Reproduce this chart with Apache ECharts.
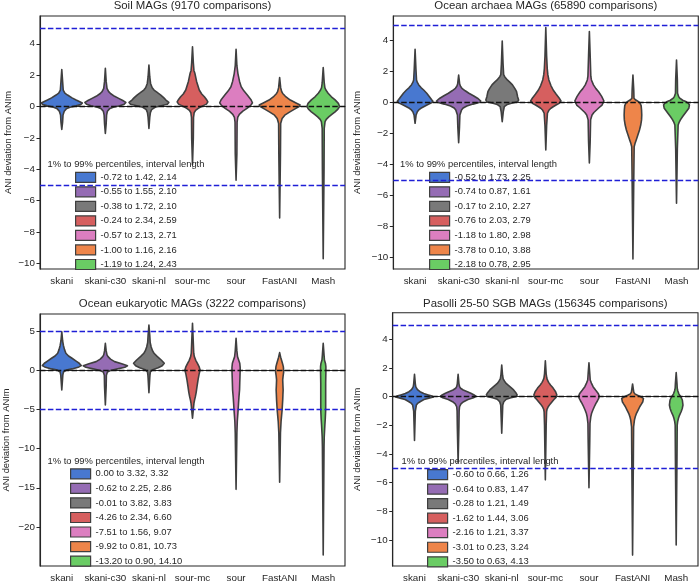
<!DOCTYPE html>
<html><head><meta charset="utf-8">
<script src="https://cdn.jsdelivr.net/npm/echarts@6/dist/echarts.min.js"></script>
<style>html,body{margin:0;padding:0;background:#fff}#c{width:699px;height:584px}</style>
</head><body><div id="c"></div>
<script>
// ---------- DATA ----------
const categories = ['skani', 'skani-c30', 'skani-nl', 'sour-mc', 'sour', 'FastANI', 'Mash'];
const panelTitles = ['Soil MAGs (9170 comparisons)', 'Ocean archaea MAGs (65890 comparisons)',
  'Ocean eukaryotic MAGs (3222 comparisons)', 'Pasolli 25-50 SGB MAGs (156345 comparisons)'];
const legendTitle = '1% to 99% percentiles, interval length';
const yTicksSoil = [-10, -8, -6, -4, -2, 0, 2, 4];
const yTicksArchaea = [-10, -8, -6, -4, -2, 0, 2, 4];
const yTicksEuk = [-20, -15, -10, -5, 0, 5];
const yTicksPasolli = [-10, -8, -6, -4, -2, 0, 2, 4];
const refLines = [5, -5];
const zeroLine = 0;

const legendSoil = ['-0.72 to 1.42, 2.14', '-0.55 to 1.55, 2.10', '-0.38 to 1.72, 2.10', '-0.24 to 2.34, 2.59',
  '-0.57 to 2.13, 2.71', '-1.00 to 1.16, 2.16', '-1.19 to 1.24, 2.43'];
const legendArchaea = ['-0.52 to 1.73, 2.25', '-0.74 to 0.87, 1.61', '-0.17 to 2.10, 2.27', '-0.76 to 2.03, 2.79',
  '-1.18 to 1.80, 2.98', '-3.78 to 0.10, 3.88', '-2.18 to 0.78, 2.95'];
const legendEuk = ['0.00 to 3.32, 3.32', '-0.62 to 2.25, 2.86', '-0.01 to 3.82, 3.83', '-4.26 to 2.34, 6.60',
  '-7.51 to 1.56, 9.07', '-9.92 to 0.81, 10.73', '-13.20 to 0.90, 14.10'];
const legendPasolli = ['-0.60 to 0.66, 1.26', '-0.64 to 0.83, 1.47', '-0.28 to 1.21, 1.49', '-1.62 to 1.44, 3.06',
  '-2.16 to 1.21, 3.37', '-3.01 to 0.23, 3.24', '-3.50 to 0.63, 4.13'];

// violin profiles: [ANI deviation, relative density width]
const violinsSoil = [
  [[2.36,0],[1.6,0.04],[1.05,0.07],[0.85,0.15],[0.73,0.28],[0.55,0.5],[0.41,0.7],[0.3,0.88],[0.22,1.0],[0.12,0.92],[0.04,0.7],[-0.05,0.4],[-0.15,0.22],[-0.3,0.12],[-0.55,0.06],[-1.0,0.04],[-1.46,0]],
  [[2.43,0],[1.6,0.04],[1.15,0.08],[0.95,0.16],[0.83,0.25],[0.65,0.45],[0.52,0.65],[0.38,0.85],[0.26,1.0],[0.14,0.92],[0.05,0.7],[-0.05,0.38],[-0.15,0.2],[-0.3,0.1],[-0.55,0.06],[-1.1,0.04],[-1.72,0]],
  [[2.64,0],[1.9,0.04],[1.47,0.08],[1.2,0.16],[1.05,0.25],[0.88,0.42],[0.73,0.58],[0.55,0.73],[0.41,0.83],[0.26,0.97],[0.14,0.9],[0.05,0.6],[-0.05,0.3],[-0.2,0.13],[-0.4,0.07],[-0.7,0.04],[-1.4,0]],
  [[3.8,0],[2.8,0.04],[2.3,0.07],[2.1,0.12],[1.6,0.2],[1.05,0.33],[0.8,0.45],[0.62,0.58],[0.45,0.68],[0.3,0.75],[0.15,0.68],[0.04,0.5],[-0.12,0.28],[-0.25,0.15],[-0.4,0.08],[-0.7,0.05],[-2,0.04],[-3.7,0]],
  [[3.64,0],[2.6,0.04],[2.1,0.09],[1.6,0.17],[1.26,0.25],[1.0,0.38],[0.73,0.55],[0.45,0.72],[0.24,0.8],[0.08,0.72],[-0.1,0.55],[-0.3,0.33],[-0.5,0.16],[-0.7,0.08],[-1,0.05],[-3,0.04],[-4.7,0]],
  [[1.85,0],[1.2,0.05],[0.95,0.1],[0.83,0.15],[0.65,0.28],[0.41,0.52],[0.22,0.8],[0.09,1.0],[0,0.95],[-0.15,0.75],[-0.34,0.5],[-0.55,0.25],[-0.76,0.12],[-1.08,0.05],[-3,0.04],[-7.1,0]],
  [[2.49,0],[1.5,0.05],[1.2,0.08],[1.05,0.13],[0.85,0.24],[0.62,0.4],[0.42,0.58],[0.2,0.74],[0,0.8],[-0.17,0.72],[-0.34,0.58],[-0.5,0.42],[-0.66,0.27],[-0.82,0.15],[-0.97,0.09],[-1.4,0.05],[-4,0.04],[-9.7,0]]
];
const violinsArchaea = [
  [[3.44,0],[2.2,0.04],[1.46,0.07],[1.3,0.11],[1.14,0.18],[0.95,0.3],[0.81,0.42],[0.6,0.57],[0.38,0.7],[0.2,0.8],[0.08,0.87],[-0.02,0.8],[-0.16,0.58],[-0.27,0.42],[-0.37,0.28],[-0.48,0.18],[-0.59,0.11],[-0.8,0.05],[-1.34,0]],
  [[1.78,0],[1.2,0.05],[1.05,0.09],[0.92,0.16],[0.76,0.32],[0.6,0.5],[0.44,0.72],[0.28,0.92],[0.1,1.08],[0,1.0],[-0.1,0.7],[-0.22,0.4],[-0.35,0.22],[-0.48,0.14],[-0.8,0.06],[-1.6,0.04],[-2.6,0]],
  [[3.98,0],[2.5,0.04],[1.8,0.07],[1.67,0.12],[1.46,0.25],[1.3,0.38],[1.14,0.5],[0.9,0.62],[0.7,0.7],[0.38,0.75],[0.16,0.8],[0.05,0.75],[-0.05,0.45],[-0.12,0.25],[-0.27,0.1],[-0.6,0.05],[-1.23,0]],
  [[4.84,0],[3,0.04],[2.2,0.07],[1.8,0.1],[1.46,0.15],[1.1,0.25],[0.81,0.36],[0.55,0.5],[0.3,0.65],[0.1,0.74],[-0.05,0.65],[-0.16,0.5],[-0.27,0.36],[-0.37,0.25],[-0.5,0.15],[-0.69,0.08],[-1.5,0.04],[-3.06,0]],
  [[4.58,0],[3,0.04],[1.7,0.07],[1.46,0.1],[1.14,0.2],[0.9,0.32],[0.7,0.45],[0.4,0.6],[0.1,0.71],[-0.16,0.62],[-0.32,0.48],[-0.48,0.35],[-0.64,0.22],[-0.8,0.13],[-1.12,0.06],[-2.5,0.04],[-3.9,0]],
  [[1.78,0],[0.8,0.04],[0.28,0.05],[0.18,0.12],[0.1,0.22],[0,0.33],[-0.2,0.4],[-0.48,0.42],[-0.8,0.43],[-1.12,0.42],[-1.45,0.38],[-1.77,0.32],[-2.1,0.24],[-2.42,0.16],[-2.65,0.1],[-2.85,0.06],[-5,0.04],[-10.1,0]],
  [[2.75,0],[1.5,0.04],[0.6,0.05],[0.4,0.1],[0.28,0.16],[0.15,0.3],[0.05,0.48],[-0.05,0.58],[-0.16,0.63],[-0.37,0.6],[-0.55,0.5],[-0.69,0.42],[-0.9,0.3],[-1.12,0.19],[-1.3,0.12],[-1.45,0.08],[-3,0.04],[-6.5,0]]
];
const violinsEuk = [
  [[4.96,0],[3.8,0.04],[3.2,0.08],[2.7,0.13],[2.2,0.2],[1.85,0.33],[1.56,0.5],[1.2,0.7],[0.92,0.85],[0.62,0.95],[0.4,0.8],[0.2,0.5],[0.05,0.22],[-0.2,0.08],[-0.6,0.05],[-1,0.04],[-2.5,0]],
  [[3.47,0],[2.5,0.04],[2.0,0.08],[1.77,0.13],[1.45,0.25],[1.13,0.45],[0.85,0.8],[0.6,1.08],[0.4,0.95],[0.2,0.6],[0.0,0.25],[-0.2,0.1],[-0.6,0.05],[-2,0.04],[-4.41,0]],
  [[5.82,0],[4.5,0.04],[3.6,0.06],[3.0,0.11],[2.5,0.18],[2.2,0.25],[1.8,0.4],[1.34,0.6],[0.92,0.75],[0.6,0.65],[0.35,0.45],[0.1,0.18],[-0.2,0.07],[-0.6,0.05],[-1,0.04],[-2.83,0]],
  [[6.03,0],[3.5,0.04],[2.2,0.06],[1.77,0.09],[1.3,0.16],[0.92,0.24],[0.5,0.32],[0.06,0.37],[-0.5,0.32],[-1.2,0.27],[-2.07,0.22],[-2.8,0.18],[-3.35,0.14],[-3.8,0.1],[-4.2,0.07],[-5,0.04],[-6.1,0]],
  [[4.1,0],[2.5,0.04],[1.77,0.07],[1.3,0.13],[0.92,0.18],[0.4,0.2],[0.06,0.2],[-0.79,0.19],[-1.6,0.18],[-2.5,0.17],[-3.4,0.14],[-4.2,0.12],[-5.05,0.1],[-6.5,0.06],[-8,0.04],[-15.2,0]],
  [[2.28,0],[1.7,0.05],[1.34,0.09],[0.9,0.14],[0.49,0.18],[-0.15,0.2],[-0.7,0.17],[-1.21,0.15],[-1.9,0.16],[-2.5,0.17],[-3.1,0.16],[-3.77,0.15],[-5.05,0.12],[-6.5,0.07],[-8,0.04],[-14.3,0]],
  [[3.47,0],[2,0.04],[1.34,0.06],[0.9,0.11],[0.5,0.13],[-0.15,0.13],[-1.64,0.12],[-3.35,0.12],[-5.05,0.12],[-6.2,0.1],[-7,0.08],[-8.5,0.05],[-9.7,0.04],[-23.6,0]]
];
const violinsPasolli = [
  [[1.56,0],[0.9,0.04],[0.7,0.06],[0.59,0.1],[0.47,0.16],[0.35,0.27],[0.22,0.45],[0.12,0.67],[0.04,0.86],[-0.02,0.92],[-0.1,0.7],[-0.2,0.46],[-0.35,0.27],[-0.47,0.15],[-0.58,0.09],[-1,0.04],[-3.05,0]],
  [[1.56,0],[0.9,0.04],[0.7,0.07],[0.59,0.12],[0.47,0.25],[0.35,0.45],[0.24,0.62],[0.12,0.78],[0.02,0.87],[-0.08,0.75],[-0.2,0.48],[-0.35,0.27],[-0.5,0.14],[-0.7,0.07],[-1.0,0.05],[-2,0.04],[-4.6,0]],
  [[2.21,0],[1.5,0.04],[1.25,0.07],[1.1,0.13],[0.95,0.2],[0.82,0.3],[0.65,0.44],[0.47,0.58],[0.3,0.68],[0.12,0.75],[0.02,0.72],[-0.08,0.45],[-0.18,0.22],[-0.35,0.1],[-0.58,0.05],[-2.55,0]],
  [[2.51,0],[1.6,0.04],[1.3,0.07],[1.17,0.1],[1.0,0.16],[0.82,0.25],[0.6,0.38],[0.35,0.5],[0.12,0.56],[-0.05,0.52],[-0.2,0.42],[-0.35,0.33],[-0.52,0.23],[-0.7,0.14],[-0.88,0.08],[-1.05,0.06],[-2,0.04],[-5.8,0]],
  [[2.37,0],[1.6,0.04],[1.17,0.06],[0.95,0.12],[0.7,0.2],[0.45,0.33],[0.23,0.45],[0.05,0.5],[-0.1,0.48],[-0.3,0.41],[-0.47,0.34],[-0.7,0.26],[-0.93,0.19],[-1.15,0.13],[-1.4,0.09],[-1.86,0.05],[-3,0.04],[-6.35,0]],
  [[0.89,0],[0.5,0.04],[0.3,0.06],[0.2,0.11],[0.1,0.24],[0.0,0.4],[-0.12,0.53],[-0.35,0.5],[-0.52,0.43],[-0.7,0.35],[-0.93,0.27],[-1.16,0.19],[-1.4,0.13],[-1.63,0.09],[-2.1,0.05],[-4,0.04],[-11.05,0]],
  [[1.68,0],[0.9,0.04],[0.6,0.05],[0.4,0.08],[0.2,0.13],[0.0,0.22],[-0.23,0.3],[-0.58,0.33],[-0.8,0.3],[-1.05,0.24],[-1.3,0.16],[-1.51,0.11],[-1.75,0.07],[-1.98,0.05],[-4,0.04],[-10.35,0]]
];

// ---------- STYLE / LAYOUT ----------
const colors = ['#4878d0', '#956cb4', '#797979', '#d65f5f', '#dc7ec0', '#ee854a', '#6acc64'];
const FONT = 'Liberation Sans, Arial, sans-serif';
const TXT = '#262626';
const EDGE = '#3f3f3f';
const panels = [
  {grid:{left:40, top:16, width:305, height:253}, yMin:-10.36, yMax:5.77, ticks:yTicksSoil, violins:violinsSoil, legend:legendSoil,
   nameGap:27, legLeft:75, legTop:171.7, legTitle:[126,164], title:[192.5,5.5]},
  {grid:{left:393.3, top:16, width:305, height:253}, yMin:-10.75, yMax:5.59, ticks:yTicksArchaea, violins:violinsArchaea, legend:legendArchaea,
   nameGap:31, legLeft:429, legTop:171.7, legTitle:[478.5,164.3], title:[545.8,5.5]},
  {grid:{left:40, top:314, width:305, height:252}, yMin:-25.0, yMax:7.22, ticks:yTicksEuk, violins:violinsEuk, legend:legendEuk,
   nameGap:29, legLeft:70, legTop:468.3, legTitle:[126,461], title:[192.5,303.5]},
  {grid:{left:392.7, top:312.7, width:305.3, height:253.3}, yMin:-11.81, yMax:5.86, ticks:yTicksPasolli, violins:violinsPasolli, legend:legendPasolli,
   nameGap:31, legLeft:427, legTop:469, legTitle:[480,461], title:[545.3,303.5]}
];

function fmt(v) { return v < 0 ? '\u2212' + Math.abs(v) : String(v); }

function makeRender(profile, cat) {
  return function (params, api) {
    const band = api.size([1, 0])[0];
    const scale = band * 0.47;
    const right = [], left = [];
    profile.forEach(function (pt) {
      const p = api.coord([cat, pt[0]]);
      right.push([p[0] + pt[1] * scale, p[1]]);
      if (pt[1] > 0) left.push([p[0] - pt[1] * scale, p[1]]);
    });
    left.reverse();
    return {
      type: 'polygon',
      shape: { points: right.concat(left), smooth: 0 },
      style: { fill: api.visual('color'), stroke: EDGE, lineWidth: 1.6, lineJoin: 'round' }
    };
  };
}

const option = { animation: false, backgroundColor: '#fff', grid: [], xAxis: [], yAxis: [], series: [], legend: [], graphic: [] };

panels.forEach(function (pn, i) {
  option.grid.push(Object.assign({ show: true, borderColor: TXT, borderWidth: 1.1, backgroundColor: 'transparent' }, pn.grid));
  option.xAxis.push({
    type: 'category', gridIndex: i, data: categories, boundaryGap: true,
    axisLine: { show: true, lineStyle: { color: TXT, width: 1.1 } },
    axisTick: { show: true, alignWithLabel: true, length: 3.5, lineStyle: { color: TXT, width: 1 } },
    axisLabel: { color: TXT, fontSize: 9.8, fontFamily: FONT, margin: 7, interval: 0 },
    splitLine: { show: false }
  });
  option.yAxis.push({
    type: 'value', gridIndex: i, min: pn.yMin, max: pn.yMax,
    name: 'ANI deviation from ANIm', nameLocation: 'middle', nameGap: pn.nameGap,
    nameTextStyle: { color: TXT, fontSize: 9.4, fontFamily: FONT },
    axisLine: { show: true, lineStyle: { color: TXT, width: 1.1 } },
    axisTick: { show: true, length: 3.5, customValues: pn.ticks, lineStyle: { color: TXT, width: 1 } },
    axisLabel: { color: TXT, fontSize: 9.8, fontFamily: FONT, margin: 5, customValues: pn.ticks, formatter: fmt },
    splitLine: { show: false }
  });
  categories.forEach(function (cat, ci) {
    const s = {
      type: 'custom', name: pn.legend[ci], xAxisIndex: i, yAxisIndex: i,
      itemStyle: { color: colors[ci] },
      renderItem: makeRender(pn.violins[ci], ci),
      data: [[ci, pn.violins[ci][0][0]]],
      z: 2, silent: true
    };
    if (ci === 0) {
      s.markLine = {
        silent: true, symbol: 'none', z: 6, animation: false,
        label: { show: false },
        data: refLines.map(function (v) { return { yAxis: v, lineStyle: { color: '#1f1fd6', type: [5.5, 2.4], width: 1.3 } }; })
          .concat([{ yAxis: zeroLine, lineStyle: { color: '#111', type: [5.5, 2.4], width: 1.3 } }])
      };
    }
    option.series.push(s);
  });
  option.legend.push({
    show: true, orient: 'vertical', left: pn.legLeft, top: pn.legTop, padding: 0,
    itemWidth: 20, itemHeight: 10, itemGap: 3.33, icon: 'rect', selectedMode: false,
    data: pn.legend,
    itemStyle: { borderColor: EDGE, borderWidth: 1.2 },
    textStyle: { color: TXT, fontSize: 9.4, fontFamily: FONT, lineHeight: 10 }
  });
  option.graphic.push({
    type: 'text', x: pn.title[0], y: pn.title[1], z: 10,
    style: { text: panelTitles[i], fill: TXT, font: '11.4px ' + FONT, textAlign: 'center', textVerticalAlign: 'middle' }
  });
  option.graphic.push({
    type: 'text', x: pn.legTitle[0], y: pn.legTitle[1], z: 10,
    style: { text: legendTitle, fill: TXT, font: '9.4px ' + FONT, textAlign: 'center', textVerticalAlign: 'middle' }
  });
});

const chart = echarts.init(document.getElementById('c'), null, { renderer: 'canvas' });
chart.setOption(option);
</script>
</body></html>
